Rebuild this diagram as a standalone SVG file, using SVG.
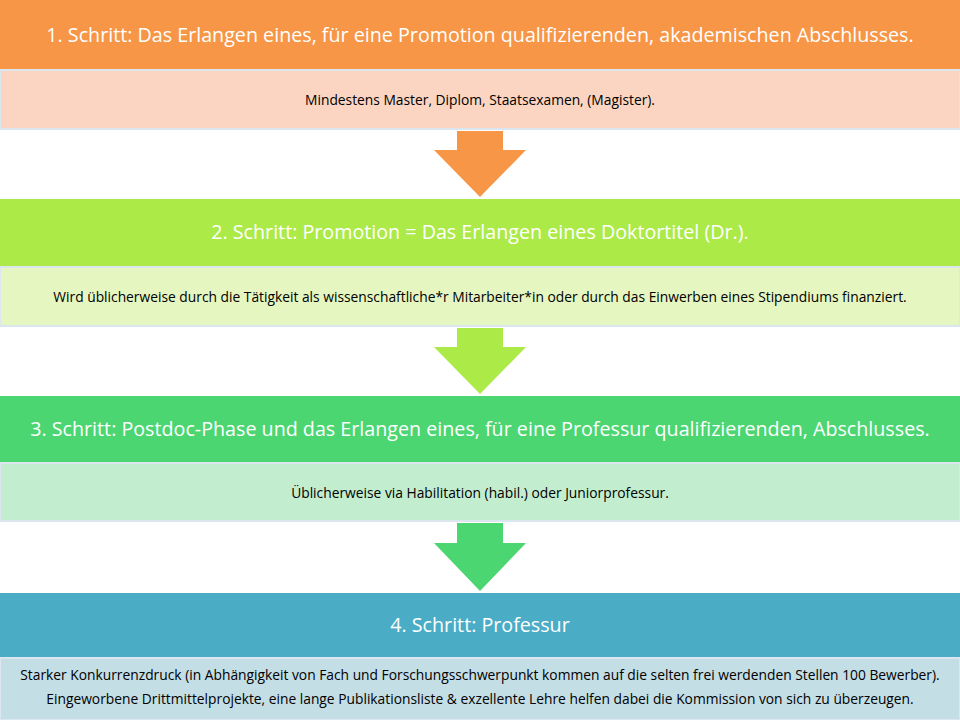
<svg xmlns="http://www.w3.org/2000/svg" width="960" height="720" viewBox="0 0 960 720" xml:space="preserve">
<style>
.h{font-family:"Open Sans","Liberation Sans",sans-serif;font-size:19.7px;fill:#fff;text-anchor:middle}
.s{font-family:"Open Sans","Liberation Sans",sans-serif;font-size:13.8px;fill:#000;text-anchor:middle}
.b{stroke:#DCE6EE;stroke-width:2}
</style>
<rect width="960" height="720" fill="#fff"/>
<g id="step1">
<rect x="0" y="0" width="960" height="69" fill="#F79646"/>
<rect x="0" y="70" width="960" height="59" fill="#FBD5C1" class="b"/>
<text class="h" x="480" y="42">1. Schritt: Das Erlangen eines, für eine Promotion qualifizierenden, akademischen Abschlusses.</text>
<text class="s" x="480" y="105">Mindestens Master, Diplom, Staatsexamen, (Magister).</text>
</g>
<g id="step2">
<rect x="0" y="199" width="960" height="67" fill="#ACEA48"/>
<rect x="0" y="267" width="960" height="59" fill="#E5F6C1" class="b"/>
<text class="h" x="480" y="239">2. Schritt: Promotion = Das Erlangen  eines Doktortitel (Dr.).</text>
<text class="s" x="480" y="302">Wird üblicherweise durch die Tätigkeit als wissenschaftliche*r Mitarbeiter*in oder durch das Einwerben eines Stipendiums finanziert.</text>
</g>
<g id="step3">
<rect x="0" y="396" width="960" height="66" fill="#4BD671"/>
<rect x="0" y="463" width="960" height="58" fill="#C3EDCF" class="b"/>
<text class="h" x="480" y="436">3. Schritt: Postdoc-Phase und das Erlangen eines, für eine Professur qualifizierenden, Abschlusses.</text>
<text class="s" x="480" y="498">Üblicherweise via Habilitation (habil.) oder Juniorprofessur.</text>
</g>
<g id="step4">
<rect x="0" y="593" width="960" height="64" fill="#4BACC6"/>
<rect x="0" y="658" width="960" height="62" fill="#C4DEE6" class="b"/>
<text class="h" x="480" y="632">4. Schritt: Professur</text>
<text class="s" x="480" y="680">Starker  Konkurrenzdruck  (in Abhängigkeit von Fach und Forschungsschwerpunkt kommen  auf die selten frei werdenden Stellen 100 Bewerber).</text>
<text class="s" x="480" y="704">Eingeworbene Drittmittelprojekte,  eine lange Publikationsliste &amp; exzellente Lehre helfen dabei die Kommission von sich zu überzeugen.</text>
</g>
<g id="connectors">
<polygon points="457,131 503,131 503,150 526,150 480,197 434,150 457,150" fill="#F79646"/>
<polygon points="457,328 503,328 503,347 526,347 480,394 434,347 457,347" fill="#ACEA48"/>
<polygon points="457,523 503,523 503,543 526,543 480,591 434,543 457,543" fill="#4BD671"/>
</g>
</svg>
